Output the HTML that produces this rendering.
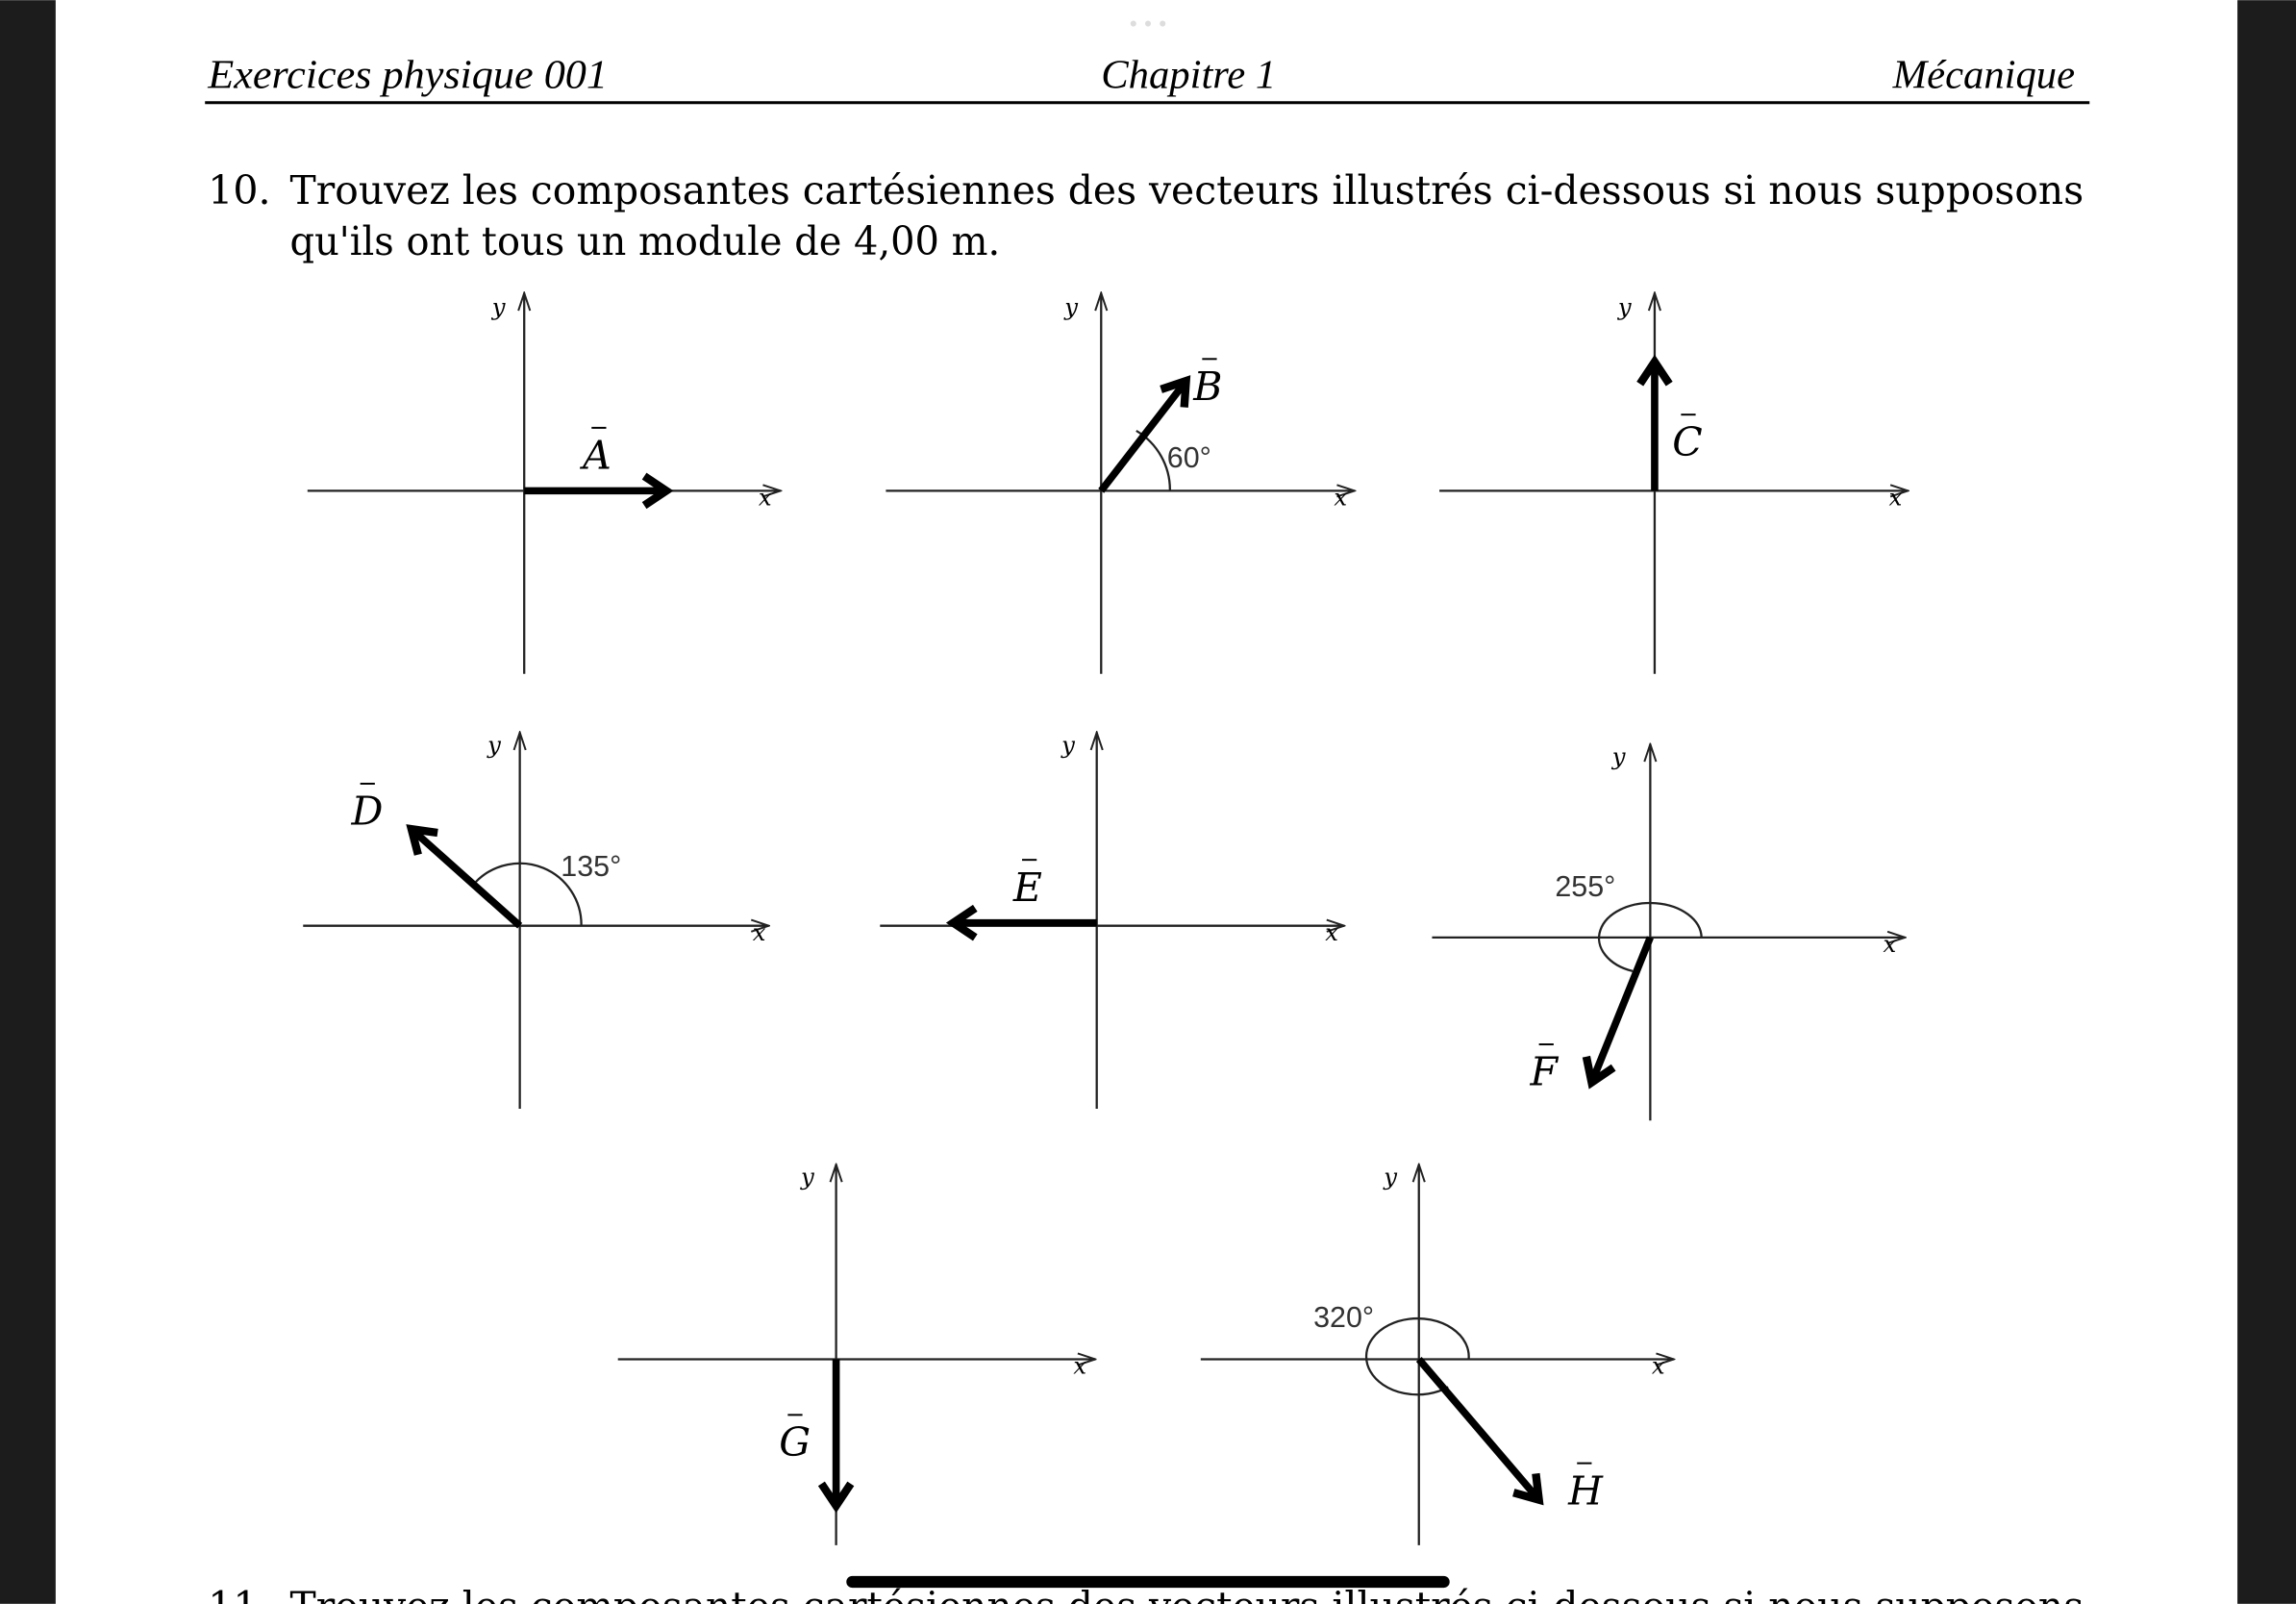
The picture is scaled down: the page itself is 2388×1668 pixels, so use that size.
<!DOCTYPE html>
<html><head><meta charset="utf-8"><style>
html,body{margin:0;padding:0;background:#fff}
svg{display:block}
.hd{font-family:"Liberation Serif",serif;font-style:italic;font-size:28px}
.tx{font-family:"DejaVu Serif",serif;font-size:27px}
.lb{font-family:"DejaVu Serif",serif;font-style:italic;font-size:27px}
.sm{font-family:"DejaVu Serif",serif;font-style:italic;font-size:16px}
.an{font-family:"Liberation Sans",sans-serif;font-size:20px;fill:#333}
</style></head><body>
<svg width="2388" height="1668" viewBox="0 0 1568 1095" xmlns="http://www.w3.org/2000/svg">
<defs>
<marker id="ax" markerWidth="14" markerHeight="10" refX="13" refY="5" orient="auto" markerUnits="userSpaceOnUse"><path d="M1,1 L13,5 L1,9" fill="none" stroke="#222" stroke-width="1.3"/></marker>
<marker id="vc" markerWidth="26" markerHeight="26" refX="19" refY="13" orient="auto" markerUnits="userSpaceOnUse" overflow="visible"><path d="M4,3 L19,13 L4,23" fill="none" stroke="#000" stroke-width="5.5" stroke-linejoin="miter"/></marker>
</defs>
<rect x="0" y="0" width="1568" height="1095" fill="#fff"/>
<rect x="0" y="0" width="38" height="1095" fill="#1c1c1c"/>
<rect x="1528" y="0" width="40" height="1095" fill="#1c1c1c"/>
<text class="hd" x="142" y="60" textLength="273" lengthAdjust="spacingAndGlyphs">Exercices physique 001</text>
<text class="hd" x="752" y="60">Chapitre 1</text>
<text class="hd" x="1417" y="60" text-anchor="end">Mécanique</text>
<line x1="140" y1="70" x2="1427" y2="70" stroke="#000" stroke-width="2"/>
<text class="tx" x="142" y="139">10.</text>
<text class="tx" x="198" y="139" textLength="1225" lengthAdjust="spacingAndGlyphs">Trouvez les composantes cartésiennes des vecteurs illustrés ci-dessous si nous supposons</text>
<text class="tx" x="198" y="174" textLength="485" lengthAdjust="spacingAndGlyphs">qu'ils ont tous un module de 4,00 m.</text>
<g stroke="#222" stroke-width="1.5" fill="none">
<line x1="210" y1="335" x2="533" y2="335" marker-end="url(#ax)"/><line x1="358" y1="460" x2="358" y2="200" marker-end="url(#ax)"/>
<line x1="605" y1="335" x2="925" y2="335" marker-end="url(#ax)"/><line x1="752" y1="460" x2="752" y2="200" marker-end="url(#ax)"/>
<line x1="983" y1="335" x2="1303" y2="335" marker-end="url(#ax)"/><line x1="1130" y1="460" x2="1130" y2="200" marker-end="url(#ax)"/>
<line x1="207" y1="632" x2="525" y2="632" marker-end="url(#ax)"/><line x1="355" y1="757" x2="355" y2="500" marker-end="url(#ax)"/>
<line x1="601" y1="632" x2="918" y2="632" marker-end="url(#ax)"/><line x1="749" y1="757" x2="749" y2="500" marker-end="url(#ax)"/>
<line x1="978" y1="640" x2="1301" y2="640" marker-end="url(#ax)"/><line x1="1127" y1="765" x2="1127" y2="508" marker-end="url(#ax)"/>
<line x1="422" y1="928" x2="748" y2="928" marker-end="url(#ax)"/><line x1="571" y1="1055" x2="571" y2="795" marker-end="url(#ax)"/>
<line x1="820" y1="928" x2="1143" y2="928" marker-end="url(#ax)"/><line x1="969" y1="1055" x2="969" y2="795" marker-end="url(#ax)"/>
<path d="M799,335 A47,47 0 0 0 776,294"/>
<path d="M397,632 A42,42 0 0 0 325,602"/>
<path d="M1162,640 A35,24 0 1 0 1115,663"/>
<path d="M1003,928 A35,26 0 1 0 989,947"/>
</g>
<g stroke="#000" stroke-width="5" fill="none" marker-end="url(#vc)">
<line x1="358" y1="335" x2="455" y2="335"/>
<line x1="752" y1="335" x2="810" y2="260"/>
<line x1="1130" y1="335" x2="1130" y2="247"/>
<line x1="355" y1="632" x2="281" y2="566"/>
<line x1="749" y1="630" x2="651" y2="630"/>
<line x1="1127" y1="640" x2="1087" y2="739"/>
<line x1="571" y1="928" x2="571" y2="1028"/>
<line x1="969" y1="928" x2="1051" y2="1024"/>
</g>
<g class="sm"><text x="336" y="215">y</text><text x="518" y="345">x</text>
<text x="727" y="215">y</text><text x="911" y="345">x</text>
<text x="1105" y="215">y</text><text x="1290" y="345">x</text>
<text x="333" y="514">y</text><text x="514" y="642">x</text>
<text x="725" y="514">y</text><text x="905" y="642">x</text>
<text x="1101" y="522">y</text><text x="1286" y="650">x</text>
<text x="547" y="809">y</text><text x="733" y="938">x</text>
<text x="945" y="809">y</text><text x="1128" y="938">x</text></g>
<g class="lb">
<text x="398" y="320">A</text><text x="815" y="273">B</text><text x="1142" y="311">C</text><text x="240" y="563">D</text>
<text x="692" y="615">E</text><text x="1045" y="741">F</text><text x="532" y="994">G</text><text x="1071" y="1027">H</text>
</g>
<g stroke="#000" stroke-width="1.3">
<line x1="404" y1="292" x2="414" y2="292"/><line x1="821" y1="245" x2="831" y2="245"/><line x1="1148" y1="283" x2="1158" y2="283"/><line x1="246" y1="535" x2="256" y2="535"/>
<line x1="698" y1="587" x2="708" y2="587"/><line x1="1051" y1="713" x2="1061" y2="713"/><line x1="538" y1="966" x2="548" y2="966"/><line x1="1077" y1="999" x2="1087" y2="999"/>
</g>
<g class="an"><text x="797" y="319">60°</text><text x="383" y="598">135°</text><text x="1062" y="612">255°</text><text x="897" y="906">320°</text></g>
<text class="tx" x="142" y="1106">11.</text>
<text class="tx" x="198" y="1106" textLength="1225" lengthAdjust="spacingAndGlyphs">Trouvez les composantes cartésiennes des vecteurs illustrés ci-dessous si nous supposons</text>
<rect x="578" y="1076" width="412" height="8" rx="4" fill="#000"/>
<g fill="#ddd"><circle cx="774" cy="16" r="2"/><circle cx="784" cy="16" r="2"/><circle cx="794" cy="16" r="2"/></g>
</svg>
</body></html>
